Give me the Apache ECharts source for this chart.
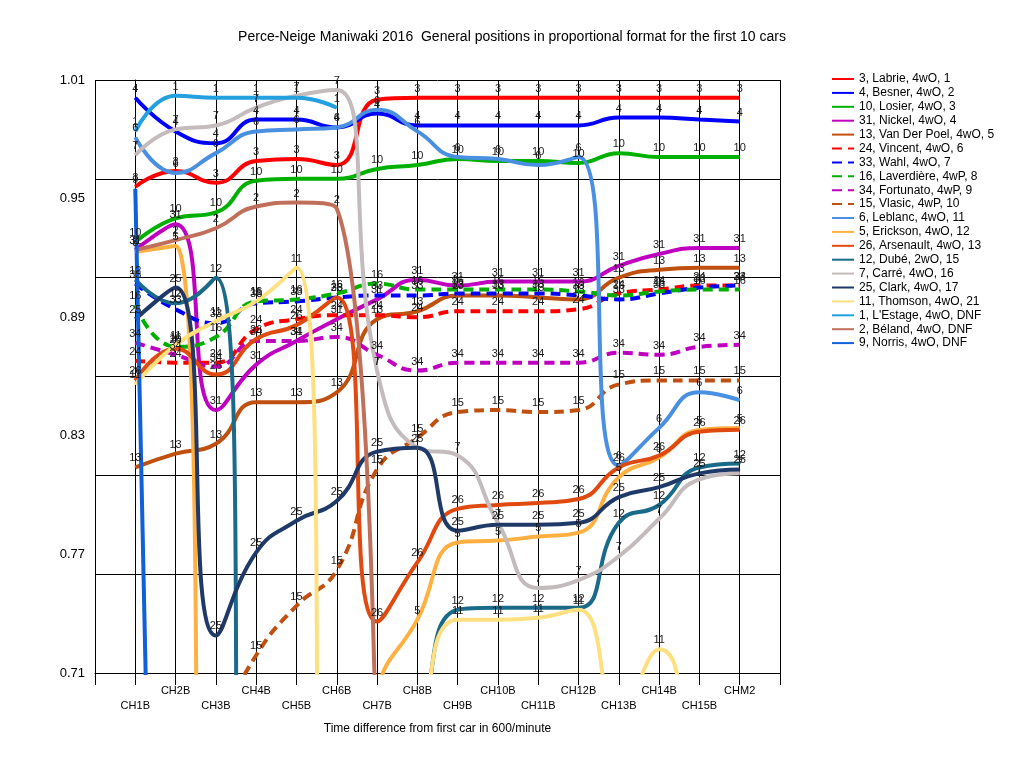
<!DOCTYPE html>
<html>
<head>
<meta charset="utf-8">
<script src="https://cdn.jsdelivr.net/npm/echarts@6/dist/echarts.min.js"></script>
<style>
html,body{margin:0;padding:0;background:#fff}
#chart{width:1024px;height:768px}
</style>
</head>
<body>
<div id="chart"></div>
<script>
let categories = ["CH1B","CH2B","CH3B","CH4B","CH5B","CH6B","CH7B","CH8B","CH9B","CH10B","CH11B","CH12B","CH13B","CH14B","CH15B","CHM2"]

let labrie     = [0.956,0.964,0.958,0.969,0.970,0.967,1.000,1.001,1.001,1.001,1.001,1.001,1.001,1.001,1.001,1.001]
let besner     = [1.001,0.984,0.978,0.990,0.990,0.986,0.993,0.987,0.987,0.987,0.987,0.987,0.991,0.991,0.990,0.989]
let losier     = [0.928,0.940,0.943,0.959,0.960,0.960,0.965,0.967,0.970,0.969,0.969,0.968,0.973,0.971,0.971,0.971]
let nickel     = [0.924,0.937,0.843,0.866,0.878,0.889,0.899,0.909,0.906,0.908,0.908,0.908,0.916,0.922,0.925,0.925]
let vanDerPoel = [0.814,0.821,0.826,0.847,0.847,0.852,0.889,0.893,0.901,0.901,0.900,0.899,0.910,0.914,0.915,0.915]
let vincent    = [0.868,0.867,0.867,0.884,0.889,0.891,0.891,0.890,0.893,0.893,0.893,0.894,0.902,0.904,0.906,0.906]
let wahl       = [0.907,0.894,0.887,0.897,0.898,0.900,0.901,0.901,0.902,0.902,0.902,0.901,0.899,0.902,0.905,0.906]
let laverdiere = [0.896,0.875,0.880,0.898,0.899,0.902,0.907,0.904,0.904,0.904,0.904,0.903,0.901,0.903,0.904,0.904]
let fortunato  = [0.877,0.871,0.865,0.878,0.878,0.880,0.871,0.863,0.867,0.867,0.867,0.867,0.872,0.871,0.875,0.876]
let vlasic     = [null,null,0.680,0.719,0.744,0.762,0.813,0.829,0.842,0.843,0.842,0.843,0.856,0.858,0.858,0.858]
let leblanc    = [0.981,0.963,0.973,0.984,0.985,0.986,0.995,0.984,0.971,0.970,0.967,0.971,0.815,0.834,0.852,0.848]
let erickson   = [0.923,0.926,0.25,0.35,0.45,0.55,0.70,0.737,0.776,0.777,0.779,0.781,0.809,0.819,0.833,0.834]
let arsenault  = [0.858,0.874,0.861,0.879,0.886,0.900,0.736,0.766,0.793,0.795,0.796,0.798,0.814,0.820,0.832,0.833]
let dube       = [0.909,0.897,0.910,0.55,0.56,0.58,0.60,0.67,0.742,0.743,0.743,0.743,0.786,0.795,0.814,0.816]
let carre      = [0.972,0.985,0.987,0.996,1.002,1.005,0.863,0.824,0.820,0.786,0.753,0.757,0.769,0.788,0.808,0.811]
let clark      = [0.889,0.905,0.729,0.771,0.787,0.797,0.822,0.824,0.782,0.785,0.785,0.786,0.799,0.804,0.811,0.813]
let thomson    = [0.856,0.876,0.888,0.898,0.915,0.52,0.55,0.66,0.737,0.737,0.738,0.742,0.69,0.722,0.66,0.62]
let lestage    = [0.984,1.002,1.001,1.001,1.001,0.996,null,null,null,null,null,null,null,null,null,null]
let beland     = [0.924,0.929,0.935,0.946,0.948,0.945,0.62,null,null,null,null,null,null,null,null,null]
let norris     = [0.955,0.0,null,null,null,null,null,null,null,null,null,null,null,null,null,null]

let names = ["3, Labrie, 4wO, 1","4, Besner, 4wO, 2","10, Losier, 4wO, 3","31, Nickel, 4wO, 4","13, Van Der Poel, 4wO, 5",
    "24, Vincent, 4wO, 6","33, Wahl, 4wO, 7","16, Laverdière, 4wP, 8","34, Fortunato, 4wP, 9","15, Vlasic, 4wP, 10",
    "6, Leblanc, 4wO, 11","5, Erickson, 4wO, 12","26, Arsenault, 4wO, 13","12, Dubé, 2wO, 15","7, Carré, 4wO, 16",
    "25, Clark, 4wO, 17","11, Thomson, 4wO, 21","1, L'Estage, 4wO, DNF","2, Béland, 4wO, DNF","9, Norris, 4wO, DNF"]
let values = [labrie,besner,losier,nickel,vanDerPoel,vincent,wahl,laverdiere,fortunato,vlasic,
    leblanc,erickson,arsenault,dube,carre,clark,thomson,lestage,beland,norris]
let colors = ["#ff0000","#0000ff","#00b000","#c000c0","#c0500f","#ff0000","#0000ff","#00b000","#c000c0","#c0500f",
    "#4a90e2","#ffb040","#e04a10","#1a6a8a","#c4bcbc","#1f3a68","#ffe080","#22a0e0","#c0705a","#1060d8"]
let dashed = [false,false,false,false,false,true,true,true,true,true,false,false,false,false,false,false,false,false,false,false]

const FONT = "Liberation Sans"

let chart = echarts.init(document.getElementById("chart"))

let series = names.map((name,i)=>({
    name:name,
    type:"line",
    smooth:true,
    clip:true,
    connectNulls:false,
    symbol:"circle",
    symbolSize:1,
    showSymbol:true,
    data:values[i].map((v,k)=>[k,v==null?"-":v]),
    lineStyle:{color:colors[i],width:4,type:dashed[i]?[10,6]:"solid"},
    itemStyle:{color:colors[i]},
    label:{
        show:true,
        position:"top",
        distance:3,
        formatter:()=>name.split(",")[0],
        fontSize:11,
        fontFamily:FONT,
        color:"#1a1a1a"
    },
    emphasis:{disabled:true}
}))

chart.setOption({
    animation:false,
    textStyle:{fontFamily:FONT},
    title:{
        text:"Perce-Neige Maniwaki 2016  General positions in proportional format for the first 10 cars",
        left:"center",
        top:25,
        textStyle:{fontSize:14,fontWeight:"normal",color:"#000",fontFamily:FONT}
    },
    legend:{
        orient:"vertical",
        left:826,
        top:68,
        itemWidth:22,
        itemHeight:8,
        itemGap:1.9,
        itemStyle:{opacity:0},
        data:names,
        textStyle:{fontSize:12,color:"#000",fontFamily:FONT}
    },
    grid:{left:95,right:244,top:80,bottom:95},
    xAxis:{
        type:"value",
        min:-1,
        max:16,
        interval:1,
        name:"Time difference from first car in 600/minute",
        nameLocation:"middle",
        nameGap:50,
        nameTextStyle:{fontSize:12,color:"#000",fontFamily:FONT},
        axisLine:{lineStyle:{color:"#000",width:1}},
        axisTick:{show:true,length:12,lineStyle:{color:"#000"}},
        splitLine:{show:true,lineStyle:{color:"#000",width:1}},
        axisLabel:{
            margin:10,
            fontSize:11,
            lineHeight:15,
            color:"#000",
            formatter:v=>{
                if(v<0||v>15) return ""
                return v%2===0 ? "\n"+categories[v] : categories[v]
            }
        }
    },
    yAxis:[{
        type:"value",
        min:0.71,
        max:1.01,
        interval:0.05,
        axisLine:{show:true,lineStyle:{color:"#000"}},
        axisTick:{show:false},
        axisLabel:{show:false},
        splitLine:{show:true,lineStyle:{color:"#000",width:1}}
    },{
        type:"value",
        position:"left",
        min:0.71,
        max:1.01,
        interval:0.06,
        axisLine:{show:false},
        axisTick:{show:false},
        splitLine:{show:false},
        axisLabel:{fontSize:13,color:"#000",margin:10,formatter:v=>v.toFixed(2)}
    }],
    series:series
})
</script>
</body>
</html>
